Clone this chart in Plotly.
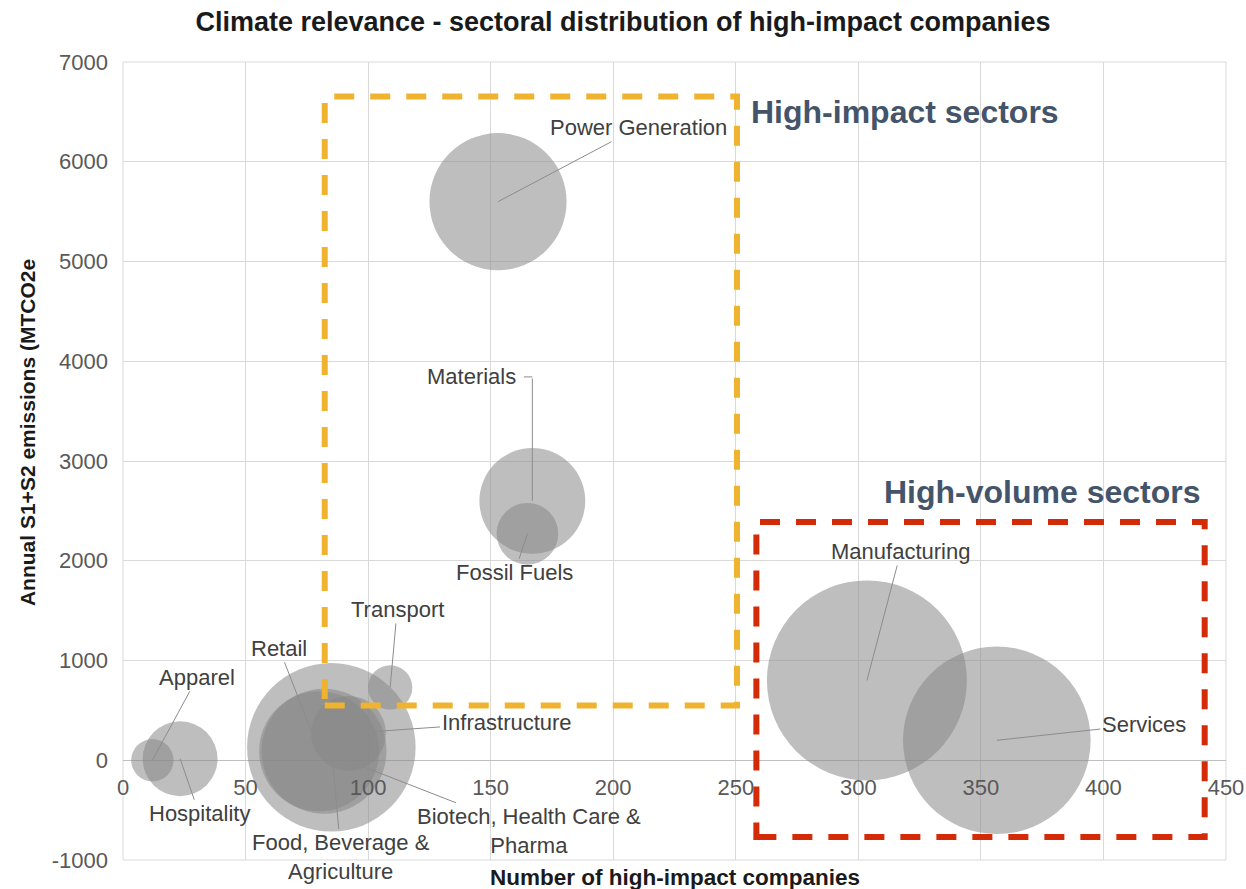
import plotly.graph_objects as go

# ---------------- data ----------------
sectors = ["Food, Beverage &<br>Agriculture", "Retail", "Biotech, Health Care &<br>Pharma",
           "Infrastructure", "Transport", "Hospitality", "Apparel",
           "Power Generation", "Materials", "Fossil Fuels", "Manufacturing", "Services"]
companies = [85, 80, 82, 92, 109, 23.3, 12, 153, 167, 165, 303.5, 356.5]
emissions = [130, 90, 90, 270, 730, 15, 0, 5600, 2600, 2270, 800, 200]
bubble_size = [71, 36, 39, 14, 4.9, 14, 4.5, 47, 28, 9.5, 100, 88]

x_ticks = [0, 50, 100, 150, 200, 250, 300, 350, 400, 450]
y_ticks = [-1000, 0, 1000, 2000, 3000, 4000, 5000, 6000, 7000]

# highlighted regions (data units): [x0, x1, y0, y1]
high_impact_box = [82.3, 250.5, 550, 6655]
high_volume_box = [258.4, 441.3, -770, 2388]

# label offsets (pixels) from bubble centre
label_offsets = {
    "Food, Beverage &<br>Agriculture": (10, 110),
    "Retail": (-40, -103),
    "Biotech, Health Care &<br>Pharma": (205, 80),
    "Infrastructure": (158, -11),
    "Transport": (7, -78),
    "Hospitality": (19, 55),
    "Apparel": (45, -83),
    "Power Generation": (140, -74),
    "Materials": (-61, -124),
    "Fossil Fuels": (-13, 39),
    "Manufacturing": (34, -129),
    "Services": (147, -16),
}
# elbow leader lines: (vertical rise in px, horizontal stub in px)
elbow_leaders = {"Materials": (-124, -10)}

FONT = "Liberation Sans, Arial, sans-serif"
LABEL_FONT = dict(family=FONT, size=22, color="#404040")
LEADER = "#8C8C8C"

fig = go.Figure()
fig.add_trace(go.Scatter(
    x=companies, y=emissions, mode="markers",
    marker=dict(size=bubble_size, sizemode="area", sizeref=0.005, opacity=1,
                color="rgba(135,135,135,0.54)", line=dict(width=0)),
    hoverinfo="skip", showlegend=False,
))

annotations = []
for name, xv, yv in zip(sectors, companies, emissions):
    ax, ay = label_offsets[name]
    if name in elbow_leaders:
        rise, stub = elbow_leaders[name]
        # vertical part
        annotations.append(dict(
            x=xv, y=yv, xref="x", yref="y", text="", showarrow=True,
            ax=0, ay=rise, arrowhead=0, arrowwidth=1, arrowcolor=LEADER,
            standoff=0, startstandoff=0))
        # horizontal stub at the top
        annotations.append(dict(
            x=xv, y=yv, xref="x", yref="y", text="", showarrow=True,
            ax=stub, ay=0, yshift=-rise, arrowhead=0, arrowwidth=1, arrowcolor=LEADER,
            standoff=0, startstandoff=0))
        annotations.append(dict(
            x=xv, y=yv, xref="x", yref="y", text=name, showarrow=False,
            xshift=ax, yshift=-ay, align="center", font=LABEL_FONT))
    else:
        annotations.append(dict(
            x=xv, y=yv, xref="x", yref="y", text=name, showarrow=True,
            ax=ax, ay=ay, arrowhead=0, arrowwidth=1, arrowcolor=LEADER,
            standoff=0, startstandoff=0, align="center", font=LABEL_FONT,
        ))

annotations += [
    dict(x=high_impact_box[1] + 5, y=6500, xref="x", yref="y", xanchor="left", yanchor="middle",
         text="<b>High-impact sectors</b>", showarrow=False,
         font=dict(family=FONT, size=32, color="#44546A")),
    dict(x=high_volume_box[1] - 0.5, y=2690, xref="x", yref="y", xanchor="right", yanchor="middle",
         text="<b>High-volume sectors</b>", showarrow=False,
         font=dict(family=FONT, size=32, color="#44546A")),
    dict(x=0.5, y=0, xref="paper", yref="paper", yshift=-17, xanchor="center", yanchor="middle",
         text="<b>Number of high-impact companies</b>", showarrow=False,
         font=dict(family=FONT, size=22.5, color="#1A1A1A")),
    dict(x=0, y=0.535, xref="paper", yref="paper", xshift=-96, xanchor="center", yanchor="middle",
         text="<b>Annual S1+S2 emissions (MTCO2e</b>", textangle=-90, showarrow=False,
         font=dict(family=FONT, size=21, color="#1A1A1A")),
]

shapes = [
    dict(type="rect", xref="paper", yref="paper", x0=0, x1=1, y0=0, y1=1,
         line=dict(color="#D9D9D9", width=1), layer="below"),
    dict(type="rect", xref="x", yref="y",
         x0=high_impact_box[0], x1=high_impact_box[1], y0=high_impact_box[2], y1=high_impact_box[3],
         line=dict(color="#EFB330", width=6, dash="20px,16px"), layer="above"),
    dict(type="rect", xref="x", yref="y",
         x0=high_volume_box[0], x1=high_volume_box[1], y0=high_volume_box[2], y1=high_volume_box[3],
         line=dict(color="#D32A08", width=6, dash="20px,16px"), layer="above"),
]

fig.update_layout(
    width=1246, height=889,
    margin=dict(l=123, r=20, t=62, b=29, autoexpand=False),
    paper_bgcolor="white", plot_bgcolor="white",
    font=dict(family=FONT),
    title=dict(text="<b>Climate relevance - sectoral distribution of high-impact companies</b>",
               x=0.5, xref="container", xanchor="center", y=1, yref="container",
               yanchor="top", pad=dict(t=12),
               font=dict(family=FONT, size=27, color="#1A1A1A")),
    annotations=annotations, shapes=shapes,
    xaxis=dict(range=[0, 450], tickvals=x_ticks, ticktext=[str(v) for v in x_ticks],
               showgrid=True, gridcolor="#D9D9D9", gridwidth=1, zeroline=False,
               showline=False, anchor="free", position=0.125, ticks="",
               ticklabelstandoff=12, automargin=False,
               tickfont=dict(family=FONT, size=22, color="#595959")),
    yaxis=dict(range=[-1000, 7000], tickvals=y_ticks, ticktext=[str(v) for v in y_ticks],
               showgrid=True, gridcolor="#D9D9D9", gridwidth=1,
               zeroline=True, zerolinecolor="#BFBFBF", zerolinewidth=1,
               showline=False, ticks="", ticklabelstandoff=14, automargin=False,
               tickfont=dict(family=FONT, size=22, color="#595959")),
)

fig.write_html("out.html")
